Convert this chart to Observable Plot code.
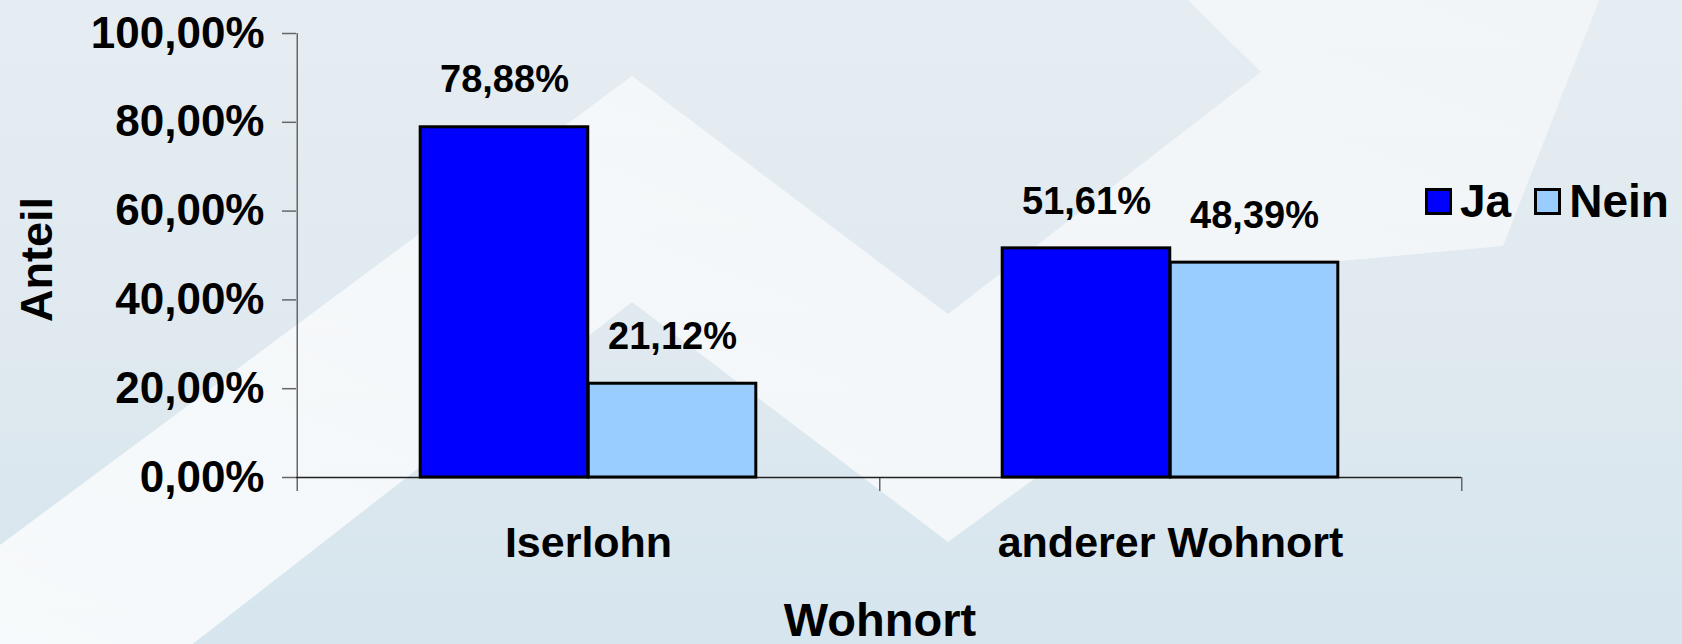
<!DOCTYPE html>
<html>
<head>
<meta charset="utf-8">
<script src="https://cdn.jsdelivr.net/npm/d3@7"></script>
<script src="https://cdn.jsdelivr.net/npm/@observablehq/plot@0.6"></script>
<style>
  html, body { margin: 0; padding: 0; }
  body { width: 1682px; height: 644px; overflow: hidden; font-family: "Liberation Sans", Arial, Helvetica, sans-serif; }
  #wrap { position: relative; width: 1682px; height: 644px;
    background: linear-gradient(180deg, #e6edf2 0%, #dfe9ef 55%, #d6e5ee 100%); }
  #bg, #chart { position: absolute; left: 0; top: 0; }
  #legend { position: absolute; left: 1425px; top: 178px; height: 46px; display: flex; align-items: center;
    font-size: 46px; font-weight: bold; line-height: 46px; color: #000; }
  #legend .sw { width: 27px; height: 27px; box-sizing: border-box; border: 3px solid #000; margin-right: 8px; }
  #legend .item { display: flex; align-items: center; margin-right: 23px; }
</style>
</head>
<body>
<div id="wrap">
  <svg id="bg" width="1682" height="644">
    <defs>
      <linearGradient id="gband" x1="0" y1="1" x2="1" y2="0">
        <stop offset="0" stop-color="#ffffff" stop-opacity="0.8"/>
        <stop offset="0.5" stop-color="#ffffff" stop-opacity="0.65"/>
        <stop offset="1" stop-color="#ffffff" stop-opacity="0.45"/>
      </linearGradient>
    </defs>
    <polygon points="0,545 632,76 948,314 1261,72 1186,-2 1600,-2 1503,246 1330,262 948,542 632,302 190,646 0,646" fill="url(#gband)"/>
  </svg>
  <div id="chart"></div>
  <div id="legend"></div>
</div>
<script>
// Data
const orte = ["Iserlohn", "anderer Wohnort"];
const antworten = ["Ja", "Nein"];
const ja = [0.7888, 0.5161];
const nein = [0.2112, 0.4839];
const farben = ["#0000ff", "#99ccff"];
const yTicks = [0, 0.2, 0.4, 0.6, 0.8, 1.0];
const yLabel = "Anteil";
const xLabel = "Wohnort";

const rows = orte.flatMap((o, i) => [
  {ort: o, antwort: antworten[0], wert: ja[i]},
  {ort: o, antwort: antworten[1], wert: nein[i]}
]);
const fmt = d => (d * 100).toFixed(2).replace(".", ",") + "%";

const W = 1682, H = 644, mL = 296, mR = 221, mT = 33, mB = 167;
const bw = (W - mL - mR) / orte.length;
const barW = bw * 0.2885;
const outer = bw / 2 - barW;

const jaRows = rows.filter(d => d.antwort === antworten[0]);
const neinRows = rows.filter(d => d.antwort === antworten[1]);

const plot = Plot.plot({
  width: W, height: H,
  marginLeft: mL, marginRight: mR, marginTop: mT, marginBottom: mB,
  style: {background: "transparent", fontFamily: "'Liberation Sans', Arial, sans-serif", fontWeight: "bold", color: "#000", overflow: "visible"},
  x: {domain: orte, padding: 0},
  y: {domain: [0, 1]},
  color: {domain: antworten, range: farben},
  marks: [
    Plot.ruleX([orte[0]], {dx: -bw / 2, stroke: "#666", strokeWidth: 1.5, insetBottom: -14}),
    Plot.ruleX(orte, {dx: bw / 2, y1: 0, y2: 0, insetBottom: -14, stroke: "#666", strokeWidth: 1.5}),
    Plot.ruleY([0], {stroke: "#222", strokeWidth: 1.5}),
    Plot.barY(jaRows, {x: "ort", y: "wert", fill: "antwort", stroke: "#000", strokeWidth: 3, insetLeft: outer, insetRight: bw / 2}),
    Plot.barY(neinRows, {x: "ort", y: "wert", fill: "antwort", stroke: "#000", strokeWidth: 3, insetLeft: bw / 2, insetRight: outer}),
    Plot.text(jaRows, {x: "ort", y: "wert", text: d => fmt(d.wert), dx: -barW / 2, dy: -47, fontSize: 38, fontWeight: "bold", fill: "#000"}),
    Plot.text(neinRows, {x: "ort", y: "wert", text: d => fmt(d.wert), dx: barW / 2, dy: -47, fontSize: 38, fontWeight: "bold", fill: "#000"}),
    Plot.axisY({ticks: yTicks, tickFormat: fmt, tickSize: 14, tickPadding: 18, fontSize: 44, fontWeight: "bold", label: null, stroke: "#666", strokeWidth: 1.5}),
    Plot.axisX({tickSize: 0, tickPadding: 49, fontSize: 43, fontWeight: "bold", label: null}),
    Plot.text([yLabel], {frameAnchor: "left", textAnchor: "middle", rotate: -90, dx: -259, dy: 4, fontSize: 45, fontWeight: "bold", fill: "#000"}),
    Plot.text([xLabel], {frameAnchor: "bottom", lineAnchor: "top", dx: 1, dy: 125, fontSize: 47, fontWeight: "bold", fill: "#000"})
  ]
});
document.getElementById("chart").appendChild(plot);

// Legend
const leg = document.getElementById("legend");
antworten.forEach((a, i) => {
  const item = document.createElement("div");
  item.className = "item";
  const sw = document.createElement("div");
  sw.className = "sw";
  sw.style.background = farben[i];
  const t = document.createElement("span");
  t.textContent = a;
  item.appendChild(sw);
  item.appendChild(t);
  leg.appendChild(item);
});
</script>
</body>
</html>
